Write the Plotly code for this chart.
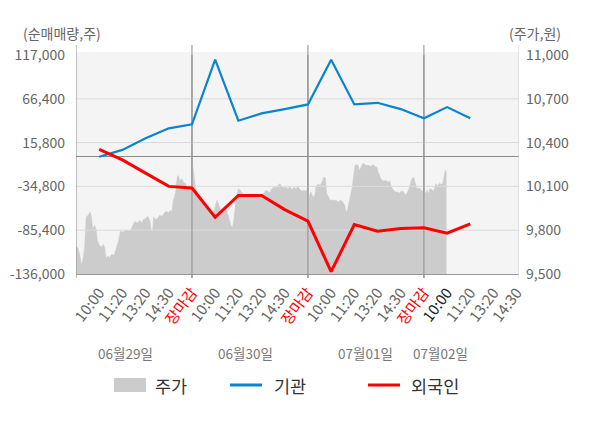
import plotly.graph_objects as go

# ---------------- data ----------------
tick_labels = ["10:00", "11:20", "13:20", "14:30", "장마감",
               "10:00", "11:20", "13:20", "14:30", "장마감",
               "10:00", "11:20", "13:20", "14:30", "장마감",
               "10:00", "11:20", "13:20", "14:30"]
date_labels = ["06월29일", "06월30일", "07월01일", "07월02일"]

institution = [-500, 7400, 20800, 32300, 36900, 111600, 41100, 49500, 54500,
               59900, 111600, 59900, 61800, 54500, 43800, 56800, 43800]
foreign = [8100, -4100, -19500, -34800, -36700, -70500, -45200, -45200, -61600,
           -75000, -133300, -78900, -86600, -83500, -82700, -88900, -78100]

left_ticks = [117000, 66400, 15800, -34800, -85400, -136000]
right_ticks = [11000, 10700, 10400, 10100, 9800, 9500]

# intraday price: minutes after market open, price (won)
day1_min = [0, 7, 14, 18, 24, 29, 34, 41, 47, 52, 56, 63, 68, 72, 78, 86, 92, 97, 101, 106,
            113, 119, 128, 135, 142, 149, 156, 165, 173, 182, 190, 198, 207, 214, 221, 227,
            234, 241, 248, 252, 257, 261, 268, 275, 281, 290, 297, 304, 311, 317, 322, 327,
            331, 335, 340, 344, 349, 356, 362, 369, 376, 383, 388]
day1_px = [9691, 9675, 9618, 9561, 9607, 9686, 9891, 9902, 9925, 9891, 9811, 9834, 9800, 9732,
           9698, 9686, 9702, 9675, 9607, 9623, 9614, 9634, 9629, 9675, 9720, 9793, 9788, 9793,
           9800, 9795, 9827, 9861, 9850, 9868, 9850, 9873, 9880, 9895, 9868, 9811, 9782, 9891,
           9873, 9880, 9902, 9895, 9918, 9930, 9918, 9936, 9925, 10005, 10027, 10061, 10163,
           10175, 10141, 10152, 10129, 10118, 10073, 10107, 10078]
day2_min = [0, 2, 5, 12, 19, 25, 32, 39, 48, 57, 66, 73, 79, 84, 91, 97, 104, 111, 118, 124,
            131, 136, 140, 145, 149, 156, 163, 172, 194, 217, 241, 248, 255, 262, 268, 275,
            282, 289, 296, 302, 309, 316, 323, 329, 336, 343, 350, 356, 363, 370, 377, 386]
day2_px = [10120, 10255, 10187, 10084, 10050, 10027, 10005, 9982, 9959, 9948, 9925, 9925,
           9970, 10005, 9970, 9936, 9941, 9948, 9925, 9880, 9834, 9816, 9857, 9948, 10027,
           10084, 10073, 10045, 10039, 10039, 10050, 10073, 10068, 10055, 10084, 10095,
           10091, 10107, 10118, 10100, 10091, 10095, 10084, 10100, 10078, 10095, 10084,
           10100, 10078, 10068, 10068, 10068]
day3_min = [0, 2, 7, 11, 16, 23, 27, 34, 41, 47, 52, 59, 63, 70, 74, 83, 95, 101, 110, 117,
            124, 128, 133, 137, 142, 149, 153, 158, 162, 169, 173, 178, 185, 192, 198, 205,
            212, 219, 225, 232, 236, 243, 250, 257, 263, 270, 275, 281, 288, 295, 302, 308,
            315, 322, 329, 335, 342, 349, 356, 360, 367, 374, 381, 388]
day3_px = [10073, 9993, 10050, 10061, 10027, 10039, 10095, 10118, 10107, 10129, 10159, 10159,
           10050, 10027, 10005, 10005, 10005, 9993, 10005, 9993, 9970, 9925, 9936, 9982,
           10027, 10095, 10163, 10243, 10250, 10243, 10209, 10232, 10259, 10250, 10243,
           10243, 10236, 10250, 10236, 10232, 10198, 10163, 10141, 10137, 10141, 10129,
           10137, 10095, 10073, 10061, 10061, 10055, 10068, 10061, 10039, 10061, 10095,
           10152, 10163, 10129, 10084, 10091, 10078, 10061]
day4_min = [0, 4, 11, 15, 20, 26, 33, 40, 47, 53, 58, 63, 67, 72, 76]
day4_px = [10039, 10050, 10073, 10050, 10084, 10078, 10068, 10118, 10107, 10122, 10114,
           10118, 10168, 10214, 10187]

# ---------------- layout constants ----------------
OFF = 8                      # default page body margin
PAGE_W, PAGE_H = 600, 428
W, H = PAGE_W - OFF, PAGE_H - OFF
PLOT_L, PLOT_R, PLOT_T, PLOT_B = 76, 519, 55, 274   # page pixels
ML, MT = PLOT_L - OFF, PLOT_T - OFF
MR, MB = W - (PLOT_R - OFF), H - (PLOT_B - OFF)
PW, PH = W - ML - MR, H - MT - MB
XR = [-1, 18.1]
SESSION = 390          # minutes per trading session
SLOTS = 5              # category slots per day
FONT = "Noto Sans CJK KR"
GRAY_TXT = "#666666"
BLUE = "#0a84cc"
RED = "#ff0000"


def pxx(p):
    return (p - PLOT_L) / PW


def pxy(p):
    return (PLOT_B - p) / PH


# price x positions on the category axis
price_x, price_y = [], []
for d, (mins, vals) in enumerate([(day1_min, day1_px), (day2_min, day2_px),
                                  (day3_min, day3_px), (day4_min, day4_px)]):
    for m, v in zip(mins, vals):
        price_x.append(XR[0] + SLOTS * (d + m / SESSION))
        price_y.append(v)

cat_x = list(range(len(tick_labels)))
day_bounds = [XR[0] + SLOTS * k for k in range(1, len(date_labels))]

fig = go.Figure()

# price area (main axes: x / y[price, right])
fig.add_trace(go.Scatter(x=price_x, y=price_y, mode="lines", fill="tozeroy",
                         fillcolor="#cccccc", line=dict(color="#cccccc", width=0.5),
                         xaxis="x", yaxis="y", name="주가", hoverinfo="skip",
                         showlegend=False))

# gridlines and day separators drawn above the area, below the lines
gx, gy = [], []
for v in right_ticks[1:-1]:
    gx += [XR[0], XR[1], None]
    gy += [v, v, None]
fig.add_trace(go.Scatter(x=gx, y=gy, mode="lines", line=dict(color="#dadada", width=1),
                         hoverinfo="skip", showlegend=False, xaxis="x", yaxis="y"))
sx, sy = [], []
for b in day_bounds:
    sx += [b, b, None]
    sy += [right_ticks[-1], right_ticks[0], None]
fig.add_trace(go.Scatter(x=sx, y=sy, mode="lines", line=dict(color="#8c8c8c", width=1),
                         hoverinfo="skip", showlegend=False, xaxis="x", yaxis="y"))

# net buying lines (overlay axis: y2, left)
fig.add_trace(go.Scatter(x=cat_x[:len(institution)], y=institution, mode="lines",
                         line=dict(color=BLUE, width=2.2), name="기관",
                         xaxis="x", yaxis="y2", showlegend=False))
fig.add_trace(go.Scatter(x=cat_x[:len(foreign)], y=foreign, mode="lines",
                         line=dict(color=RED, width=3), name="외국인",
                         xaxis="x", yaxis="y2", showlegend=False))

ticktext = []
for i, t in enumerate(tick_labels):
    if t == "장마감":
        ticktext.append(f'<span style="color:{RED}">{t}</span>')
    elif i == 15:
        ticktext.append(f'<span style="color:#222222">{t}</span>')
    else:
        ticktext.append(t)

shapes = []
# background strip slightly above the plot area
shapes.append(dict(type="rect", xref="x", yref="paper", x0=XR[0], x1=XR[1],
                   y0=1, y1=pxy(52), fillcolor="#f4f4f4", line=dict(width=0), layer="below"))
# left axis line and separators extending above/below plot
for b in [XR[0]] + day_bounds:
    shapes.append(dict(type="line", xref="x", yref="paper", x0=b, x1=b,
                       y0=pxy(278), y1=pxy(45), line=dict(color="#8c8c8c", width=1),
                       layer="above" if b == XR[0] else "below"))
    if b != XR[0]:
        shapes.append(dict(type="line", xref="x", yref="paper", x0=b, x1=b,
                           y0=pxy(278), y1=0, line=dict(color="#8c8c8c", width=1),
                           layer="above"))
# right axis line
shapes.append(dict(type="line", xref="x", yref="paper", x0=XR[1], x1=XR[1],
                   y0=pxy(278), y1=pxy(45), line=dict(color="#d0d0d0", width=1)))
# legend symbols
shapes.append(dict(type="rect", xref="paper", yref="paper", x0=pxx(114), x1=pxx(146),
                   y0=pxy(392), y1=pxy(378), fillcolor="#cccccc", line=dict(width=0)))
shapes.append(dict(type="line", xref="paper", yref="paper", x0=pxx(230), x1=pxx(262),
                   y0=pxy(385), y1=pxy(385), line=dict(color=BLUE, width=3)))
shapes.append(dict(type="line", xref="paper", yref="paper", x0=pxx(368), x1=pxx(400),
                   y0=pxy(385), y1=pxy(385), line=dict(color=RED, width=3)))

annotations = []
annotations.append(dict(text="(순매매량,주)", xref="paper", yref="paper", x=pxx(21), y=pxy(33),
                        xanchor="left", yanchor="middle", showarrow=False,
                        font=dict(family=FONT, size=14, color=GRAY_TXT)))
annotations.append(dict(text="(주가,원)", xref="paper", yref="paper", x=pxx(563), y=pxy(33),
                        xanchor="right", yanchor="middle", showarrow=False,
                        font=dict(family=FONT, size=14, color=GRAY_TXT)))
for lbl, cx in zip(date_labels, [125, 245, 365, 440]):
    annotations.append(dict(text=lbl, xref="paper", yref="paper", x=pxx(cx), y=pxy(353),
                            xanchor="center", yanchor="middle", showarrow=False,
                            font=dict(family=FONT, size=13.5, color="#777777")))
for lbl, lx in zip(["주가", "기관", "외국인"], [153, 272, 409]):
    annotations.append(dict(text=lbl, xref="paper", yref="paper", x=pxx(lx), y=pxy(385),
                            xanchor="left", yanchor="middle", showarrow=False,
                            font=dict(family=FONT, size=17.5, color="#333333")))

fig.update_layout(
    width=W, height=H,
    margin=dict(l=ML, r=MR, t=MT, b=MB, autoexpand=False),
    paper_bgcolor="#ffffff", plot_bgcolor="#f4f4f4",
    font=dict(family=FONT, color=GRAY_TXT),
    showlegend=False,
    xaxis=dict(range=XR, tickmode="array", tickvals=cat_x, ticktext=ticktext,
               tickangle=-53, tickfont=dict(family=FONT, size=15, color=GRAY_TXT),
               showgrid=False, zeroline=False, showline=True, linecolor="#999999",
               linewidth=1, ticks="", layer="above traces", fixedrange=True,
               automargin=False, ticklabelstandoff=3),
    yaxis=dict(range=[right_ticks[-1], right_ticks[0]], side="right", tickmode="array",
               tickvals=right_ticks, ticktext=[f"{v:,}" for v in right_ticks],
               tickfont=dict(family=FONT, size=14, color=GRAY_TXT),
               showgrid=False, zeroline=False, showline=False, ticks="",
               ticklabelstandoff=6, automargin=False),
    yaxis2=dict(range=[left_ticks[-1], left_ticks[0]], side="left", overlaying="y",
                tickmode="array", tickvals=left_ticks,
                ticktext=[f"{v:,}" for v in left_ticks],
                tickfont=dict(family=FONT, size=14, color=GRAY_TXT),
                showgrid=False, zeroline=True, zerolinecolor="#8c8c8c", zerolinewidth=1,
                showline=False, ticks="", ticklabelstandoff=10, automargin=False),
    shapes=shapes,
    annotations=annotations,
)

fig.write_html("out.html")
